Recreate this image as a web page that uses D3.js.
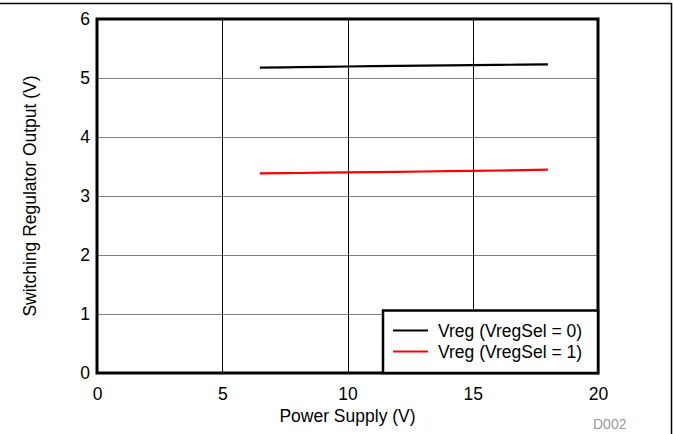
<!DOCTYPE html>
<html>
<head>
<meta charset="utf-8">
<script src="https://cdn.jsdelivr.net/npm/d3@7"></script>
<style>
  html, body { margin: 0; padding: 0; background: #fff; }
  svg { display: block; font-family: "Liberation Sans", Arial, sans-serif; }
</style>
</head>
<body>
<svg id="chart" width="673" height="434"></svg>
<script>
// ---- data ----
const supplyV = [6.5, 7.5, 8, 9, 10, 11, 12, 13, 14, 15, 16, 17, 18];
const vregSel0 = [5.175, 5.18, 5.185, 5.19, 5.195, 5.20, 5.205, 5.21, 5.215, 5.218, 5.222, 5.228, 5.232];
const vregSel1 = [3.385, 3.387, 3.39, 3.395, 3.40, 3.405, 3.41, 3.415, 3.42, 3.425, 3.432, 3.44, 3.446];
const seriesNames = ["Vreg (VregSel = 0)", "Vreg (VregSel = 1)"];
const seriesColors = ["#000000", "#ff0000"];
const xTicks = [0, 5, 10, 15, 20];
const yTicks = [0, 1, 2, 3, 4, 5, 6];
const xTitle = "Power Supply (V)";
const yTitle = "Switching Regulator Output (V)";
const figId = "D002";

// ---- layout ----
const svg = d3.select("#chart");
const L = 97, R = 598, T = 19, B = 373;
const x = d3.scaleLinear().domain([0, 20]).range([L, R]);
const y = d3.scaleLinear().domain([0, 6]).range([B, T]);

// outer frame (top + right)
svg.append("path")
  .attr("d", `M0,3.5 H671.5 V434`)
  .attr("fill", "none").attr("stroke", "#000").attr("stroke-width", 1.5);

// horizontal grid (gray)
svg.append("g").selectAll("line").data(yTicks.slice(1, -1)).join("line")
  .attr("x1", L).attr("x2", R)
  .attr("y1", d => Math.round(y(d)) + 0.5).attr("y2", d => Math.round(y(d)) + 0.5)
  .attr("stroke", "#808080").attr("stroke-width", 1);

// vertical grid (black)
svg.append("g").selectAll("line").data(xTicks.slice(1, -1)).join("line")
  .attr("y1", T).attr("y2", B)
  .attr("x1", d => Math.round(x(d)) + 0.5).attr("x2", d => Math.round(x(d)) + 0.5)
  .attr("stroke", "#000").attr("stroke-width", 1);

// axes (tick labels only)
const xAxis = svg.append("g").attr("transform", `translate(0,${B})`)
  .call(d3.axisBottom(x).tickValues(xTicks).tickSize(0).tickPadding(15).tickFormat(d3.format("d")));
const yAxis = svg.append("g").attr("transform", `translate(${L},0)`)
  .call(d3.axisLeft(y).tickValues(yTicks).tickSize(0).tickPadding(7).tickFormat(d3.format("d")));
[xAxis, yAxis].forEach(a => {
  a.select(".domain").remove();
  a.attr("font-size", 17.5).attr("font-family", "'Liberation Sans', Arial, sans-serif");
  a.selectAll("text").attr("font-size", 17.5).attr("fill", "#000");
});

// data lines
const line = d3.line().x((d, i) => x(supplyV[i])).y(d => y(d));
[vregSel0, vregSel1].forEach((s, i) => {
  svg.append("path").datum(s).attr("d", line)
    .attr("fill", "none").attr("stroke", seriesColors[i]).attr("stroke-width", 2.2);
});

// plot frame
svg.append("rect").attr("x", L).attr("y", T).attr("width", R - L).attr("height", B - T)
  .attr("fill", "none").attr("stroke", "#000").attr("stroke-width", 3);

// legend
const lg = svg.append("g");
lg.append("rect").attr("x", 383).attr("y", 310.5).attr("width", R - 383).attr("height", B - 310.5)
  .attr("fill", "#fff").attr("stroke", "#000").attr("stroke-width", 2.5);
seriesNames.forEach((n, i) => {
  const yy = 330.5 + i * 21;
  lg.append("line").attr("x1", 393).attr("x2", 428).attr("y1", yy).attr("y2", yy)
    .attr("stroke", seriesColors[i]).attr("stroke-width", 2.2);
  lg.append("text").attr("x", 438).attr("y", yy + 6).attr("font-size", 17.5).text(n);
});

// axis titles
svg.append("text").attr("x", (L + R) / 2).attr("y", 421.5).attr("text-anchor", "middle")
  .attr("font-size", 17.5).text(xTitle);
svg.append("text").attr("transform", `translate(36,${(T + B) / 2}) rotate(-90)`)
  .attr("text-anchor", "middle").attr("font-size", 17.5).text(yTitle);

// figure id
svg.append("text").attr("x", 593).attr("y", 429).attr("font-size", 14).attr("fill", "#999").text(figId);
</script>
</body>
</html>
